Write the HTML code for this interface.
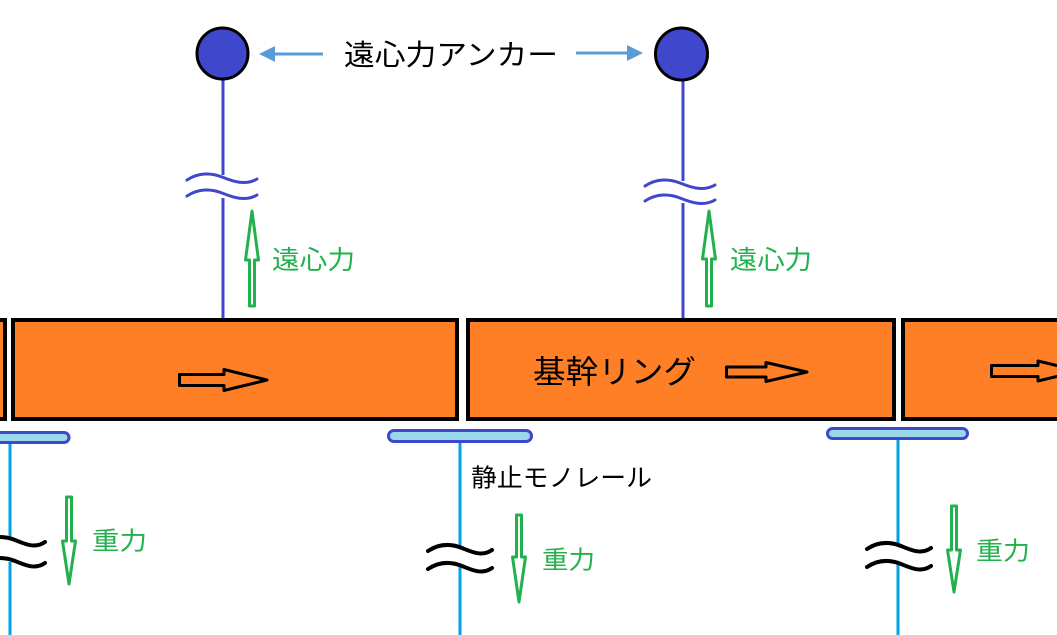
<!DOCTYPE html>
<html>
<head>
<meta charset="utf-8">
<style>
html,body{margin:0;padding:0;background:#fff;}
svg{display:block;}
text{font-family:"Liberation Sans","Noto Sans CJK JP",sans-serif;}
</style>
</head>
<body>
<svg width="1057" height="635" viewBox="0 0 1057 635" xmlns="http://www.w3.org/2000/svg">
  <rect width="1057" height="635" fill="#fff"/>

  <!-- top anchors -->
  <line x1="223" y1="80" x2="223" y2="175" stroke="#3F48CC" stroke-width="3"/>
  <line x1="223" y1="198" x2="223" y2="320" stroke="#3F48CC" stroke-width="3"/>
  <line x1="683" y1="80" x2="683" y2="181" stroke="#3F48CC" stroke-width="3"/>
  <line x1="683" y1="203" x2="683" y2="320" stroke="#3F48CC" stroke-width="3"/>
  <circle cx="222.5" cy="53.5" r="25.5" fill="#3F48CC" stroke="#000" stroke-width="3"/>
  <circle cx="681.5" cy="54" r="26" fill="#3F48CC" stroke="#000" stroke-width="3"/>

  <!-- blue waves -->
  <g fill="none" stroke="#3F48CC" stroke-width="3" stroke-linecap="round">
    <path d="M187,180 C199,172 212,173 222,177 S245,186 257,179"/>
    <path d="M187,196 C199,188 212,189 222,193 S245,202 257,195"/>
    <path d="M645,186 C657,178 670,179 680,183 S703,192 715,185"/>
    <path d="M645,201 C657,193 670,194 680,198 S703,207 715,200"/>
  </g>

  <!-- anchor label arrows -->
  <line x1="323" y1="54" x2="272" y2="54" stroke="#5B9BD5" stroke-width="3"/>
  <polygon points="259,54 275,46 275,62" fill="#5B9BD5"/>
  <line x1="576" y1="53" x2="630" y2="53" stroke="#5B9BD5" stroke-width="3"/>
  <polygon points="643,53 627,45 627,61" fill="#5B9BD5"/>
  <text x="344" y="65" font-size="29" fill="#000" textLength="214" lengthAdjust="spacingAndGlyphs">遠心力アンカー</text>

  <!-- green up arrows -->
  <g fill="#fff" stroke="#22B14C" stroke-width="3" stroke-linejoin="round">
    <path d="M249.5,306 L249.5,260 L245.5,260 L252,211 L258.5,260 L254.5,260 L254.5,306 Z"/>
    <path d="M706.5,306 L706.5,259 L702.5,259 L709,211 L715.5,259 L711.5,259 L711.5,306 Z"/>
  </g>
  <text x="272" y="269" font-size="26" fill="#22B14C" textLength="83" lengthAdjust="spacingAndGlyphs">遠心力</text>
  <text x="730" y="269" font-size="26" fill="#22B14C" textLength="82" lengthAdjust="spacingAndGlyphs">遠心力</text>

  <!-- ring boxes -->
  <g fill="#FF7F27" stroke="#000" stroke-width="4">
    <rect x="-10" y="320" width="15" height="99"/>
    <rect x="13" y="320" width="444" height="99"/>
    <rect x="468" y="320" width="426" height="99"/>
    <rect x="903" y="320" width="200" height="99"/>
  </g>
  <g fill="#FF7F27" stroke="#000" stroke-width="3" stroke-linejoin="round">
    <path d="M179.5,374.5 L224,374.5 L224,369.5 L267,380 L224,390.5 L224,385.5 L179.5,385.5 Z"/>
    <path d="M726.5,367 L766,367 L766,362.5 L807,372 L766,381.5 L766,377 L726.5,377 Z"/>
    <path d="M991.5,365.5 L1038,365.5 L1038,361 L1080,371 L1038,381 L1038,376.5 L991.5,376.5 Z"/>
  </g>
  <text x="533" y="383" font-size="32" fill="#000" textLength="163" lengthAdjust="spacingAndGlyphs">基幹リング</text>

  <!-- monorails -->
  <line x1="10" y1="443" x2="10" y2="538" stroke="#00A2E8" stroke-width="3"/>
  <line x1="10" y1="562" x2="10" y2="635" stroke="#00A2E8" stroke-width="3"/>
  <line x1="460" y1="443" x2="460" y2="546" stroke="#00A2E8" stroke-width="3"/>
  <line x1="460" y1="566" x2="460" y2="635" stroke="#00A2E8" stroke-width="3"/>
  <line x1="898" y1="439" x2="898" y2="544" stroke="#00A2E8" stroke-width="3"/>
  <line x1="898" y1="564" x2="898" y2="635" stroke="#00A2E8" stroke-width="3"/>
  <g fill="#99D9EA" stroke="#3F48CC" stroke-width="3">
    <rect x="-10" y="432.5" width="79" height="10" rx="5"/>
    <rect x="388.5" y="430.5" width="143" height="11" rx="5.5"/>
    <rect x="827.5" y="428.5" width="140" height="10" rx="5"/>
  </g>
  <text x="471" y="486.5" font-size="25" fill="#000" textLength="181" lengthAdjust="spacingAndGlyphs">静止モノレール</text>

  <!-- black waves -->
  <g fill="none" stroke="#000" stroke-width="4" stroke-linecap="round">
    <path d="M-20,543 C-8,535 5,536 15,540 S35,549 45,542"/>
    <path d="M-20,564 C-8,556 5,557 15,561 S35,570 45,563"/>
    <path d="M428,551 C440,543 452,544 462,548 S482,557 492,550"/>
    <path d="M428,569 C440,561 452,562 462,566 S482,575 492,568"/>
    <path d="M867,549 C879,541 891,542 901,546 S921,555 931,548"/>
    <path d="M867,567 C879,559 891,560 901,564 S921,573 931,566"/>
  </g>

  <!-- green down arrows -->
  <g fill="#fff" stroke="#22B14C" stroke-width="3" stroke-linejoin="round">
    <path d="M66.5,497 L66.5,541 L62.5,541 L69,584 L75.5,541 L71.5,541 L71.5,497 Z"/>
    <path d="M516.5,515 L516.5,557 L512.5,557 L519,602 L525.5,557 L521.5,557 L521.5,515 Z"/>
    <path d="M951.5,506 L951.5,550 L947.5,550 L954,592 L960.5,550 L956.5,550 L956.5,506 Z"/>
  </g>
  <text x="92" y="549.5" font-size="25" fill="#22B14C" textLength="55" lengthAdjust="spacingAndGlyphs">重力</text>
  <text x="542" y="568.5" font-size="25" fill="#22B14C" textLength="53" lengthAdjust="spacingAndGlyphs">重力</text>
  <text x="976" y="559.5" font-size="25" fill="#22B14C" textLength="54" lengthAdjust="spacingAndGlyphs">重力</text>
</svg>
</body>
</html>
